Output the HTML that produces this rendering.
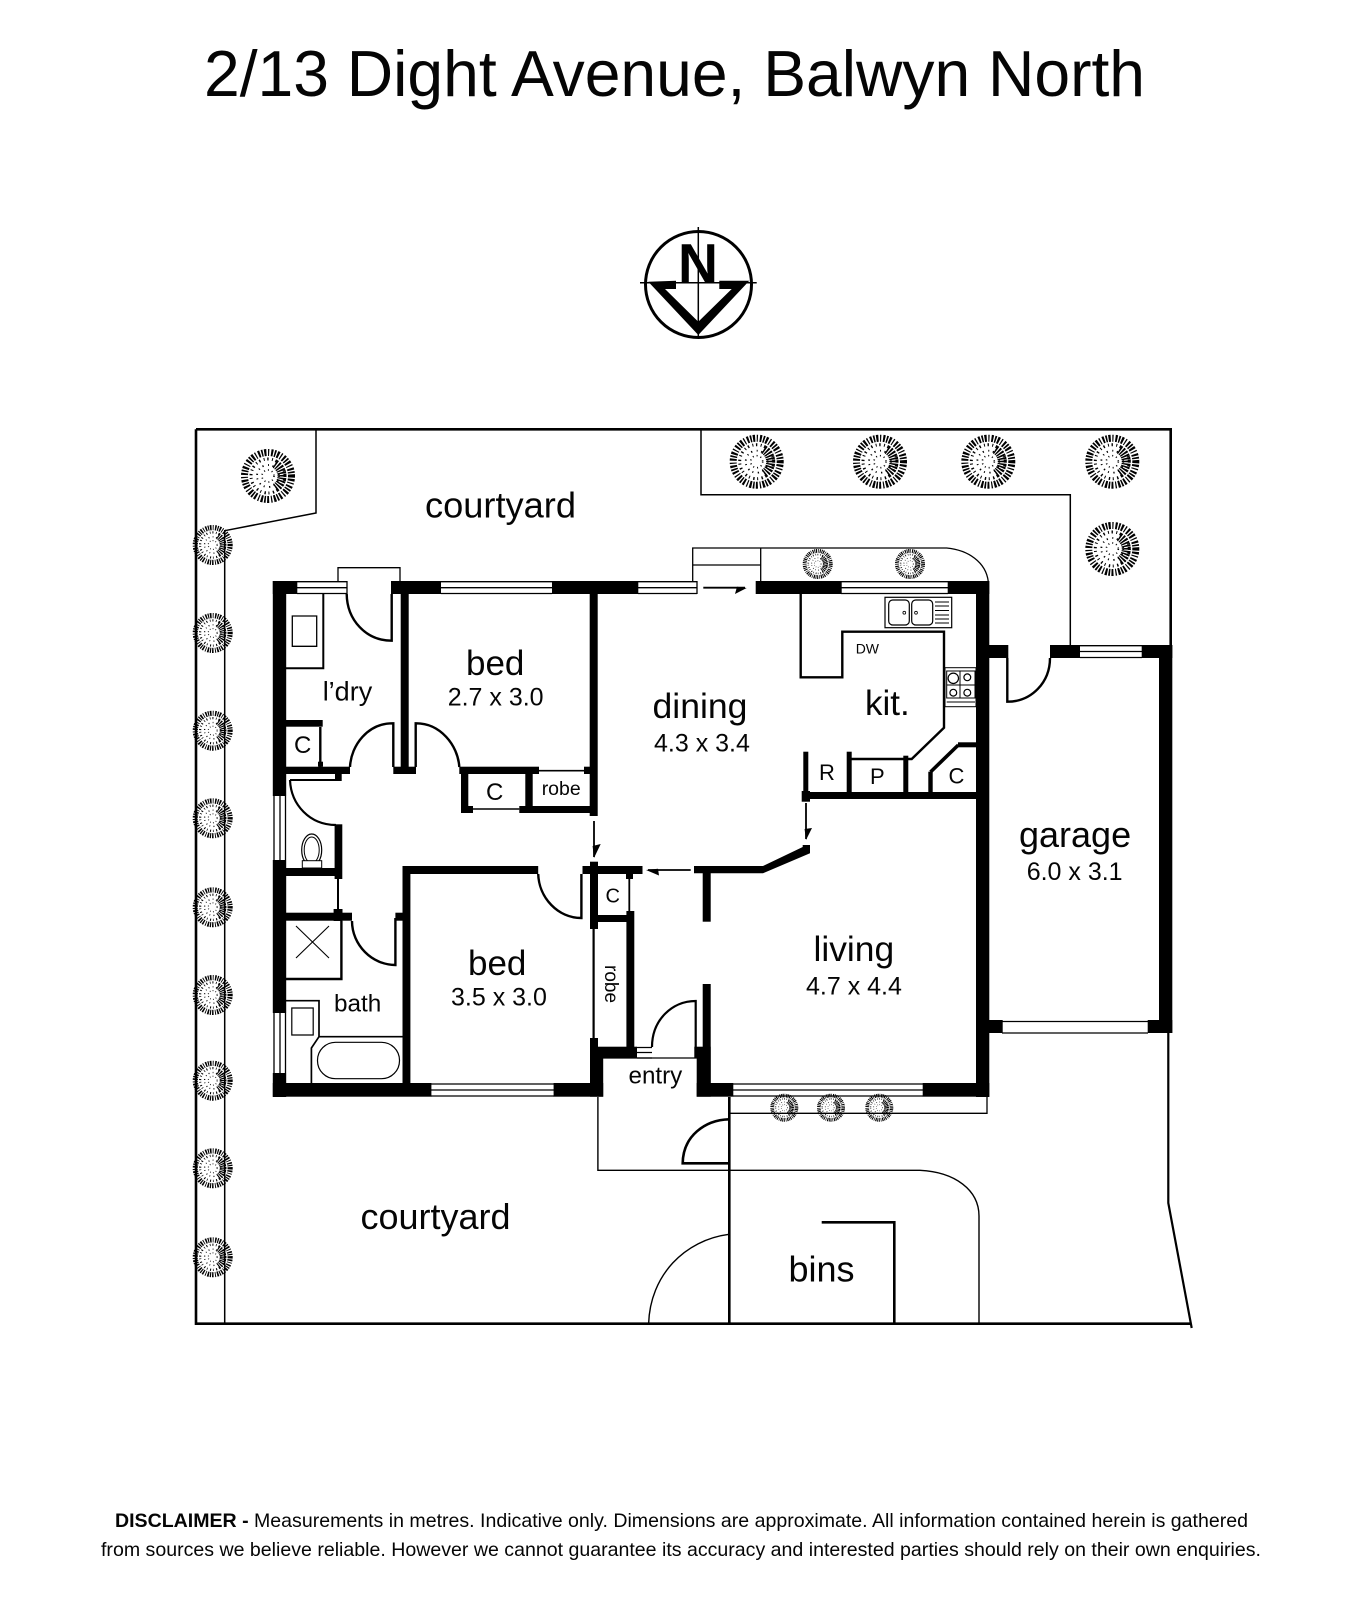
<!DOCTYPE html>
<html>
<head>
<meta charset="utf-8">
<style>
html,body{margin:0;padding:0;background:#fff}
svg{display:block}
text{font-family:"Liberation Sans",Arial,sans-serif;fill:#050505}
</style>
</head>
<body>
<svg width="1364" height="1600" viewBox="0 0 1364 1600" xmlns="http://www.w3.org/2000/svg">
<defs>
<symbol id="tree" viewBox="-27 -27 54 54" overflow="visible">
<g fill="none" stroke="#000">
<circle r="23.500" stroke-width="7" stroke-dasharray="1.600 1.200 2.200 1.600 1.200 1.900 2 1.300"/>
<circle r="17" stroke-width="3" stroke-dasharray="1 2.600 1.400 3.400"/>
<circle r="11" stroke-width="1.800" stroke-dasharray="1 3.500 1.300 4.500"/>
<circle r="6" stroke-width="1.600" stroke-dasharray="1 3"/>
<path d="M7 -12.100A14 14 0 0 1 7 12.100" stroke-width="9" stroke-dasharray="1.600 1.100"/>
</g>
</symbol>
</defs>

<!-- Title -->
<text x="204" y="96" font-size="65" textLength="941" lengthAdjust="spacingAndGlyphs">2/13 Dight Avenue, Balwyn North</text>

<!-- North -->
<g>
<circle cx="698.500" cy="284.500" r="53" fill="none" stroke="#000" stroke-width="3"/>
<path d="M698.300 227V336M640 282.700H756.700" stroke="#000" stroke-width="1.500" fill="none"/>
<text x="678" y="282" font-size="55" font-weight="bold" textLength="40" lengthAdjust="spacingAndGlyphs" style="fill:#000">N</text>
<polygon fill="#000" points="648.300,281.700 676,280.700 676,289 665,289 698.300,321.700 731.700,289 719.300,289 719.300,280.700 749.300,280.700 698.300,335"/>
</g>

<!-- Site thin lines -->
<g fill="none" stroke="#000">
<path d="M196 429.300H1170.700V645" stroke-width="2.600"/>
<path d="M196 429.300V1323.700H1191" stroke-width="2.600"/>
<path d="M316 429V513L224.700 530.700V1324" stroke-width="1.500"/>
<path d="M701 429V494.700H1070.300V645" stroke-width="1.500"/>
<path d="M1168.300 1033V1203L1191.700 1328" stroke-width="2.200"/>
<path d="M692.700 581V548H946.700C968 550 986 562 988.300 581.700M692.700 565H760.700M760.700 548V581" stroke-width="1.300"/>
<path d="M338 581V567.700H400V581" stroke-width="1.300"/>
<path d="M729.300 1097V1324" stroke-width="2.600"/>
<path d="M729 1113.300H987V1097" stroke-width="1.300"/>
<path d="M597.900 1097V1170.300H920C955 1172 979 1190 979 1216V1324" stroke-width="1.400"/>
<path d="M729 1234.300C685 1240 650 1275 648.600 1324" stroke-width="1.400"/>
<path d="M821.700 1222.300H894.300V1324" stroke-width="2.600"/>
<path d="M729 1119.300C705 1120 683 1136 682.700 1163.300H729" stroke-width="2.600"/>
</g>

<!-- Windows -->
<g fill="none" stroke="#000" stroke-width="1.300">
<path d="M297 581.700H347M297 587.700H347M297 593.500H347M347 581V594"/>
<path d="M441 581.700H552M441 587.700H552M441 593.500H552"/>
<path d="M638 581.700H697M638 587.700H697M638 593.500H697M697 581V594"/>
<path d="M841 581.700H948M841 587.700H948M841 593.500H948"/>
<path d="M1080 645.700H1142M1080 651.500H1142M1080 657.500H1142"/>
<path d="M1002 1021.500H1148M1002 1033H1148"/>
<path d="M431 1084H554M431 1090H554M431 1096H554"/>
<path d="M733 1084H923M733 1090H923M733 1096H923"/>
<path d="M274 796V860M280 796V860M285.500 796V860"/>
<path d="M274 1013V1073M280 1013V1073M285.500 1013V1073"/>
<path d="M637 1047.500H652M637 1052.500H652M637 1058H652"/>
</g>

<!-- Walls -->
<g fill="#000">
<rect x="272.800" y="581" width="13.400" height="215"/>
<rect x="272.800" y="581" width="24.500" height="13"/>
<rect x="391" y="581" width="50" height="13"/>
<rect x="552" y="581" width="86.300" height="13"/>
<rect x="755.700" y="581" width="86" height="13"/>
<rect x="947.700" y="581" width="41.600" height="13"/>
<rect x="976" y="581" width="13.300" height="516"/>
<rect x="922.700" y="1083" width="66.600" height="13.700"/>
<rect x="400.700" y="594" width="8" height="179"/>
<rect x="393.300" y="766.700" width="22.700" height="7.300"/>
<rect x="589.700" y="594" width="8" height="222"/>
<rect x="459.300" y="766.700" width="79.700" height="7.300"/>
<rect x="584" y="766.700" width="6" height="7.300"/>
<rect x="461" y="774" width="7.300" height="39"/>
<rect x="461" y="806" width="12" height="7"/>
<rect x="519.300" y="806" width="70.700" height="7"/>
<rect x="525.300" y="774" width="7.400" height="32"/>
<rect x="286" y="720" width="36.700" height="6.700"/>
<rect x="318" y="761.700" width="5" height="5"/>
<rect x="286" y="766.700" width="64" height="7.300"/>
<rect x="335" y="774" width="6.700" height="7"/>
<rect x="334.600" y="824.300" width="7.700" height="54.700"/>
<rect x="286" y="868" width="56" height="8"/>
<rect x="272.800" y="860" width="13.400" height="153"/>
<rect x="272.800" y="1073" width="13.400" height="24"/>
<rect x="272.800" y="1083" width="158.600" height="13.700"/>
<rect x="553.600" y="1083" width="49.600" height="13.700"/>
<rect x="590" y="1038" width="8" height="20"/>
<rect x="590" y="1046.700" width="47" height="11.300"/>
<rect x="590" y="1058" width="13.200" height="38.700"/>
<rect x="626.400" y="911" width="7.900" height="136"/>
<rect x="590" y="915" width="44" height="7"/>
<rect x="590" y="861.700" width="8" height="67.300"/>
<rect x="582.500" y="866" width="60" height="8"/>
<rect x="626" y="874" width="7" height="5"/>
<rect x="402.500" y="866" width="135.700" height="8"/>
<rect x="402.500" y="866" width="7.900" height="217"/>
<rect x="286" y="912.700" width="66" height="8"/>
<rect x="333.600" y="909" width="8.900" height="12"/>
<rect x="395.400" y="912.700" width="7.100" height="8"/>
<rect x="702.700" y="984" width="8" height="100"/>
<rect x="694.300" y="1046.700" width="16.400" height="11.300"/>
<rect x="696.700" y="1058" width="14" height="38.700"/>
<rect x="696.700" y="1083" width="36.600" height="13.700"/>
<rect x="702.700" y="873" width="8" height="48.700"/>
<polygon points="694,866 763,866 802.700,847 802.700,845 810,845 810,853.300 763,873.300 694,873.300"/>
<rect x="803.300" y="751.700" width="5" height="42"/>
<rect x="801.700" y="791" width="8.300" height="10.700"/>
<rect x="802" y="792" width="174" height="7"/>
<rect x="846.700" y="751.700" width="5" height="41"/>
<rect x="903.300" y="755.700" width="5" height="37"/>
<rect x="928.300" y="771.700" width="4.400" height="21"/>
<rect x="958" y="742.300" width="18" height="5"/>
<rect x="989" y="645" width="19.300" height="13"/>
<rect x="1050" y="645" width="30" height="13"/>
<rect x="1141.700" y="645" width="30.600" height="13"/>
<rect x="1159" y="645" width="13.300" height="388"/>
<rect x="1147.700" y="1020" width="24.600" height="13"/>
<rect x="989" y="1020" width="13.700" height="13"/>
</g>

<!-- Interior line work -->
<g fill="none" stroke="#000">
<path d="M286 668.300H323.300V594" stroke-width="2"/>
<path d="M292.300 616H316.700V646.300H292.300Z" stroke-width="1.300"/>
<path d="M320.300 727V767" stroke-width="2.400"/>
<path d="M290 780H335" stroke-width="2"/>
<path d="M290 780C291 805 310 825 336 825" stroke-width="2.200"/>
<path d="M391.700 594V640.700C366 640.700 347 620 346.700 594" stroke-width="2.400"/>
<path d="M393.300 767V723.300C368 723 351 745 350 767" stroke-width="2.400"/>
<path d="M415.700 767V723.300C440 723 458 745 459.300 767" stroke-width="2.400"/>
<path d="M539 770.700H584M473 809H519.300" stroke-width="1.600"/>
<path d="M338 879V909" stroke-width="2"/>
<path d="M581.400 874V918C558 918 539 898 538.200 874" stroke-width="2.400"/>
<path d="M629.300 874V911" stroke-width="1.800"/>
<path d="M352 921C352 945 372 965 395.400 965V918" stroke-width="2.400"/>
<path d="M286 979H341.400V921" stroke-width="2.400"/>
<path d="M296 926L329 958M329 926L296 958" stroke-width="1.100"/>
<path d="M286 1000.700H319V1036.700H402.500M319 1036.700L311.400 1048V1083" stroke-width="1.700"/>
<path d="M291.800 1008H313.200V1035H291.800Z" stroke-width="1.200"/>
<rect x="317.500" y="1042.300" width="82" height="36.400" rx="18" ry="18" stroke-width="1.200"/>
<path d="M593.600 929V1038" stroke-width="2.200"/>
<path d="M652 1047C652 1020 672 1001 695.700 1001V1047" stroke-width="2.200"/>
<path d="M603 1058H697" stroke-width="1.200"/>
<path d="M1007.300 658V701.700C1032 701.700 1050 682 1050 658" stroke-width="2.400"/>
<path d="M800.700 594V677.300H842.300V631.700H944V727.700L911.700 759H851" stroke-width="2.400"/>
<path d="M930.500 772L958.300 745" stroke-width="3.600"/>
<ellipse cx="311.700" cy="850" rx="10" ry="16" stroke-width="1.200"/>
<ellipse cx="311.700" cy="850" rx="7.500" ry="13" stroke-width="1"/>
<rect x="302.300" y="860.700" width="19.400" height="7.300" stroke-width="1" fill="#fff"/>
<!-- sink -->
<rect x="885" y="597.300" width="66.700" height="30.400" stroke-width="1.200"/>
<rect x="888.700" y="600" width="20.600" height="25" rx="4" stroke-width="1.200"/>
<rect x="911.700" y="600" width="21" height="25" rx="4" stroke-width="1.200"/>
<circle cx="904.300" cy="612.700" r="1.400" stroke-width="0.800"/>
<circle cx="916" cy="612.700" r="1.400" stroke-width="0.800"/>
<path d="M935 602H949M935 606H949M935 610.500H949M935 615H949M935 619H949M935 623H949" stroke-width="1"/>
<!-- stove -->
<rect x="945" y="667.700" width="31" height="39" stroke-width="1"/>
<rect x="946.700" y="671" width="28.300" height="27" stroke-width="1"/>
<path d="M946.700 702H975M960 671V698M946.700 685H975" stroke-width="1"/>
<circle cx="953.300" cy="678.300" r="5.200" stroke-width="1.200" fill="#fff"/>
<circle cx="967.300" cy="677.300" r="3.400" stroke-width="1.200" fill="#fff"/>
<circle cx="953.300" cy="692.700" r="3.400" stroke-width="1.200" fill="#fff"/>
<circle cx="967.300" cy="692.700" r="3.400" stroke-width="1.200" fill="#fff"/>
<!-- arrows -->
<path d="M594 821V857M703.300 587.700H745M690.700 870H648M806 803V839" stroke-width="1.800"/>
</g>
<g fill="#000">
<polygon points="594,858 592.600,846 600.700,844"/>
<polygon points="746.700,588 735,594 737,586.800"/>
<polygon points="646,870 658,868.800 659,875.500"/>
<polygon points="806,840 804.600,829 812,828"/>
</g>

<!-- Trees -->
<use href="#tree" x="241" y="449" width="54" height="54"/>
<use href="#tree" x="729.700" y="434.700" width="54" height="54"/>
<use href="#tree" x="853" y="434.700" width="54" height="54"/>
<use href="#tree" x="961.300" y="434.700" width="54" height="54"/>
<use href="#tree" x="1085.300" y="434.700" width="54" height="54"/>
<use href="#tree" x="1085.300" y="522" width="54" height="54"/>
<use href="#tree" x="192.700" y="525" width="40" height="40"/>
<use href="#tree" x="192.700" y="613" width="40" height="40"/>
<use href="#tree" x="192.700" y="710.700" width="40" height="40"/>
<use href="#tree" x="192.700" y="798.300" width="40" height="40"/>
<use href="#tree" x="192.700" y="887.300" width="40" height="40"/>
<use href="#tree" x="192.700" y="975" width="40" height="40"/>
<use href="#tree" x="192.700" y="1060.700" width="40" height="40"/>
<use href="#tree" x="192.700" y="1148.300" width="40" height="40"/>
<use href="#tree" x="192.700" y="1237.300" width="40" height="40"/>
<use href="#tree" x="802.700" y="549" width="30" height="30"/>
<use href="#tree" x="895" y="549" width="30" height="30"/>
<use href="#tree" x="770.300" y="1093.700" width="28" height="28"/>
<use href="#tree" x="817" y="1093.700" width="28" height="28"/>
<use href="#tree" x="865.300" y="1093.700" width="28" height="28"/>

<!-- Labels -->
<text x="425" y="517.500" font-size="36" textLength="151" lengthAdjust="spacingAndGlyphs">courtyard</text>
<text x="360.500" y="1228.800" font-size="36" textLength="150" lengthAdjust="spacingAndGlyphs">courtyard</text>
<text x="466" y="675" font-size="35">bed</text>
<text x="447.700" y="705.700" font-size="25">2.7 x 3.0</text>
<text x="322.700" y="700.700" font-size="27">l’dry</text>
<text x="294" y="753" font-size="24">C</text>
<text x="486" y="800" font-size="24">C</text>
<text x="541.700" y="795" font-size="19.500">robe</text>
<text x="652.500" y="718" font-size="35.600">dining</text>
<text x="654" y="751.700" font-size="25">4.3 x 3.4</text>
<text x="865" y="715" font-size="35">kit.</text>
<text x="855.700" y="653.300" font-size="14">DW</text>
<text x="819" y="780" font-size="22">R</text>
<text x="870" y="784" font-size="22">P</text>
<text x="948.500" y="783.500" font-size="22">C</text>
<text x="1019" y="847" font-size="36">garage</text>
<text x="1026.700" y="880" font-size="25">6.0 x 3.1</text>
<text x="813.500" y="961" font-size="35.400">living</text>
<text x="806" y="994.300" font-size="25">4.7 x 4.4</text>
<text x="468" y="975" font-size="35">bed</text>
<text x="451" y="1005.300" font-size="25">3.5 x 3.0</text>
<text x="605.500" y="902.700" font-size="20">C</text>
<text transform="translate(605 965) rotate(90)" font-size="19">robe</text>
<text x="334" y="1011.500" font-size="24.300">bath</text>
<text x="628.500" y="1083.500" font-size="24.200">entry</text>
<text x="788.500" y="1281.700" font-size="36">bins</text>

<!-- Disclaimer -->
<text x="115" y="1527" font-size="19.500" textLength="1133" lengthAdjust="spacingAndGlyphs"><tspan font-weight="bold">DISCLAIMER -</tspan> Measurements in metres. Indicative only. Dimensions are approximate. All information contained herein is gathered</text>
<text x="101" y="1556" font-size="19.500" textLength="1160" lengthAdjust="spacingAndGlyphs">from sources we believe reliable. However we cannot guarantee its accuracy and interested parties should rely on their own enquiries.</text>
</svg>
</body>
</html>
